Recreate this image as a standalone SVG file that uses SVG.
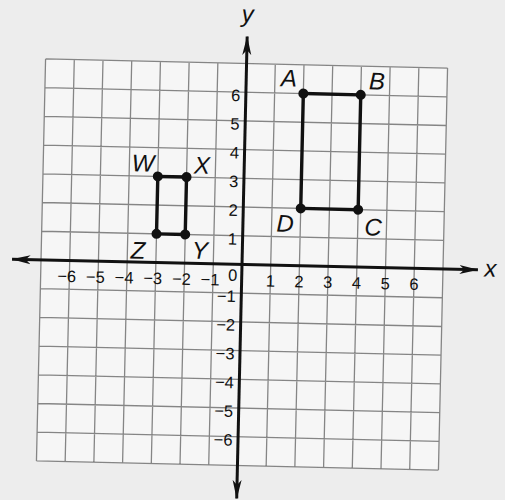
<svg xmlns="http://www.w3.org/2000/svg" width="505" height="500" viewBox="0 0 505 500">
  <style>
    .grid { stroke: #858585; stroke-width: 1.3; fill: none; }
    .axis { stroke: #111; stroke-width: 3; fill: none; }
    .shape { stroke: #111; stroke-width: 3.4; fill: none; stroke-linejoin: round; }
    .pt { fill: #111; }
    .tick { font-family: "Liberation Sans", Arial, sans-serif; font-size: 16.5px; fill: #111; }
    .lbl { font-family: "Liberation Sans", Arial, sans-serif; font-size: 24px; font-style: italic; fill: #111; text-anchor: middle; }
  </style>
  <defs>
    <marker id="arrow" viewBox="0 0 19 10" refX="18.5" refY="5" markerWidth="19" markerHeight="10" markerUnits="userSpaceOnUse" orient="auto-start-reverse">
      <path d="M0,0.5 L19,5 L0,9.5 L5,5 Z" fill="#111"/>
    </marker>
  </defs>
  <rect width="505" height="500" fill="#ededed"/>
  <g transform="translate(242,264.5) rotate(1.3)">
    <g id="grid">
      <rect x="-201.04" y="-201.04" width="402.08" height="402.08" fill="#f6f6f6"/>
      <path class="grid" d="M-201.04,-201.04V201.04M-172.32,-201.04V201.04M-143.6,-201.04V201.04M-114.88,-201.04V201.04M-86.16,-201.04V201.04M-57.44,-201.04V201.04M-28.72,-201.04V201.04M28.72,-201.04V201.04M57.44,-201.04V201.04M86.16,-201.04V201.04M114.88,-201.04V201.04M143.6,-201.04V201.04M172.32,-201.04V201.04M201.04,-201.04V201.04M-201.04,-201.04H201.04M-201.04,-172.32H201.04M-201.04,-143.6H201.04M-201.04,-114.88H201.04M-201.04,-86.16H201.04M-201.04,-57.44H201.04M-201.04,-28.72H201.04M-201.04,28.72H201.04M-201.04,57.44H201.04M-201.04,86.16H201.04M-201.04,114.88H201.04M-201.04,143.6H201.04M-201.04,172.32H201.04M-201.04,201.04H201.04"/>
    </g>
    <g id="axes">
      <line class="axis" x1="-230" y1="0" x2="236" y2="0" marker-start="url(#arrow)" marker-end="url(#arrow)"/>
      <line class="axis" x1="0" y1="234" x2="0" y2="-228" marker-start="url(#arrow)" marker-end="url(#arrow)"/>
      <text class="lbl" x="248.5" y="6.6" font-size="23">x</text>
      <text class="lbl" x="0" y="-242.5">y</text>
    </g>
    <g id="ticks" class="tick">
      <g text-anchor="middle">
        <text x="-175" y="21.5">−6</text>
        <text x="-146.3" y="21.5">−5</text>
        <text x="-117.6" y="21.5">−4</text>
        <text x="-88.9" y="21.5">−3</text>
        <text x="-60.2" y="21.5">−2</text>
        <text x="-31.5" y="21.5">−1</text>
        <text x="-9" y="16.5">0</text>
        <text x="28.72" y="21.5">1</text>
        <text x="57.44" y="21.5">2</text>
        <text x="86.16" y="21.5">3</text>
        <text x="114.88" y="21.5">4</text>
        <text x="143.6" y="21.5">5</text>
        <text x="172.32" y="21.5">6</text>
      </g>
      <g text-anchor="end">
        <text x="-5.5" y="-163.3">6</text>
        <text x="-5.5" y="-134.6">5</text>
        <text x="-5.5" y="-105.9">4</text>
        <text x="-5.5" y="-77.2">3</text>
        <text x="-5.5" y="-48.4">2</text>
        <text x="-5.5" y="-19.7">1</text>
        <text x="-5.5" y="37.7">−1</text>
        <text x="-5.5" y="66.4">−2</text>
        <text x="-5.5" y="95.2">−3</text>
        <text x="-5.5" y="123.9">−4</text>
        <text x="-5.5" y="152.6">−5</text>
        <text x="-5.5" y="181.3">−6</text>
      </g>
    </g>
    <g id="rect-ABCD">
      <polygon class="shape" points="57.44,-172.32 114.88,-172.32 114.88,-57.44 57.44,-57.44"/>
      <circle class="pt" cx="57.44" cy="-172.32" r="5"/>
      <circle class="pt" cx="114.88" cy="-172.32" r="5"/>
      <circle class="pt" cx="114.88" cy="-57.44" r="5"/>
      <circle class="pt" cx="57.44" cy="-57.44" r="5"/>
      <text class="lbl" x="42.8" y="-179">A</text>
      <text class="lbl" x="130.8" y="-178">B</text>
      <text class="lbl" x="130.2" y="-31.9">C</text>
      <text class="lbl" x="42.1" y="-33.9">D</text>
    </g>
    <g id="rect-WXYZ">
      <polygon class="shape" points="-86.16,-86.16 -57.44,-86.16 -57.44,-28.72 -86.16,-28.72"/>
      <circle class="pt" cx="-86.16" cy="-86.16" r="5"/>
      <circle class="pt" cx="-57.44" cy="-86.16" r="5"/>
      <circle class="pt" cx="-57.44" cy="-28.72" r="5"/>
      <circle class="pt" cx="-86.16" cy="-28.72" r="5"/>
      <text class="lbl" x="-101.3" y="-90.7">W</text>
      <text class="lbl" x="-42.3" y="-90">X</text>
      <text class="lbl" x="-42.3" y="-4.9">Y</text>
      <text class="lbl" x="-104.3" y="-3.5">Z</text>
    </g>
  </g>
</svg>
